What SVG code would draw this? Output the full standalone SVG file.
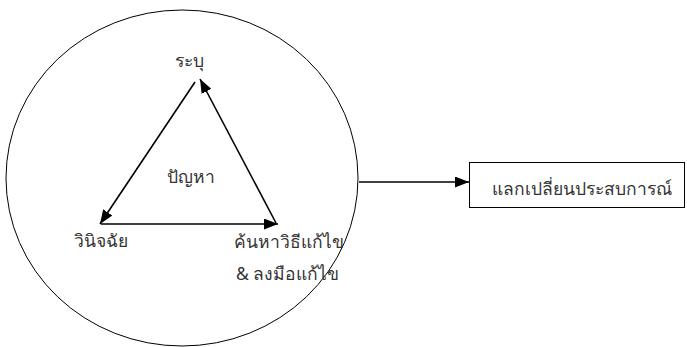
<svg xmlns="http://www.w3.org/2000/svg" width="687" height="347" viewBox="0 0 687 347">
  <style>
    .line { stroke: #000; stroke-width: 1.6; fill: none; }
    .frame { stroke: #000; stroke-width: 1; fill: none; }
    .label { font-family: "Noto Sans", "DejaVu Sans", sans-serif; font-size: 17.5px; fill: #333; }
  </style>
  <defs>
    <marker id="arrow" viewBox="0 0 14 11" refX="14" refY="5.5" markerWidth="14" markerHeight="11" markerUnits="userSpaceOnUse" orient="auto">
      <path d="M0,0 L14,5.5 L0,11 Z" fill="#000"/>
    </marker>
  </defs>
  <rect width="687" height="347" fill="#fff"/>

  <!-- outer circle -->
  <g id="cycle">
    <ellipse class="frame" cx="182" cy="178" rx="176" ry="168"/>
  </g>

  <g id="node-identify">
    <text class="label" x="189" y="67" text-anchor="middle">ระบุ</text>
  </g>
  <g id="node-problem">
    <text class="label" x="191" y="183" text-anchor="middle">ปัญหา</text>
  </g>
  <g id="node-diagnose">
    <text class="label" x="74" y="247">วินิจฉัย</text>
  </g>
  <g id="node-solve">
    <text class="label" x="234" y="248">ค้นหาวิธีแก้ไข</text>
    <text class="label" x="236" y="280">&amp; ลงมือแก้ไข</text>
  </g>
  <g id="node-share">
    <rect class="frame" x="469.5" y="162.5" width="215" height="45"/>
    <text class="label" x="582" y="195" text-anchor="middle">แลกเปลี่ยนประสบการณ์</text>
  </g>

  <g id="connectors">
    <line class="line" x1="195" y1="82" x2="100" y2="224" marker-end="url(#arrow)"/>
    <line class="line" x1="101" y1="224" x2="278" y2="224" marker-end="url(#arrow)"/>
    <line class="line" x1="276" y1="223" x2="200" y2="79" marker-end="url(#arrow)"/>
    <line class="line" x1="359" y1="182" x2="469" y2="182" marker-end="url(#arrow)"/>
  </g>
</svg>
